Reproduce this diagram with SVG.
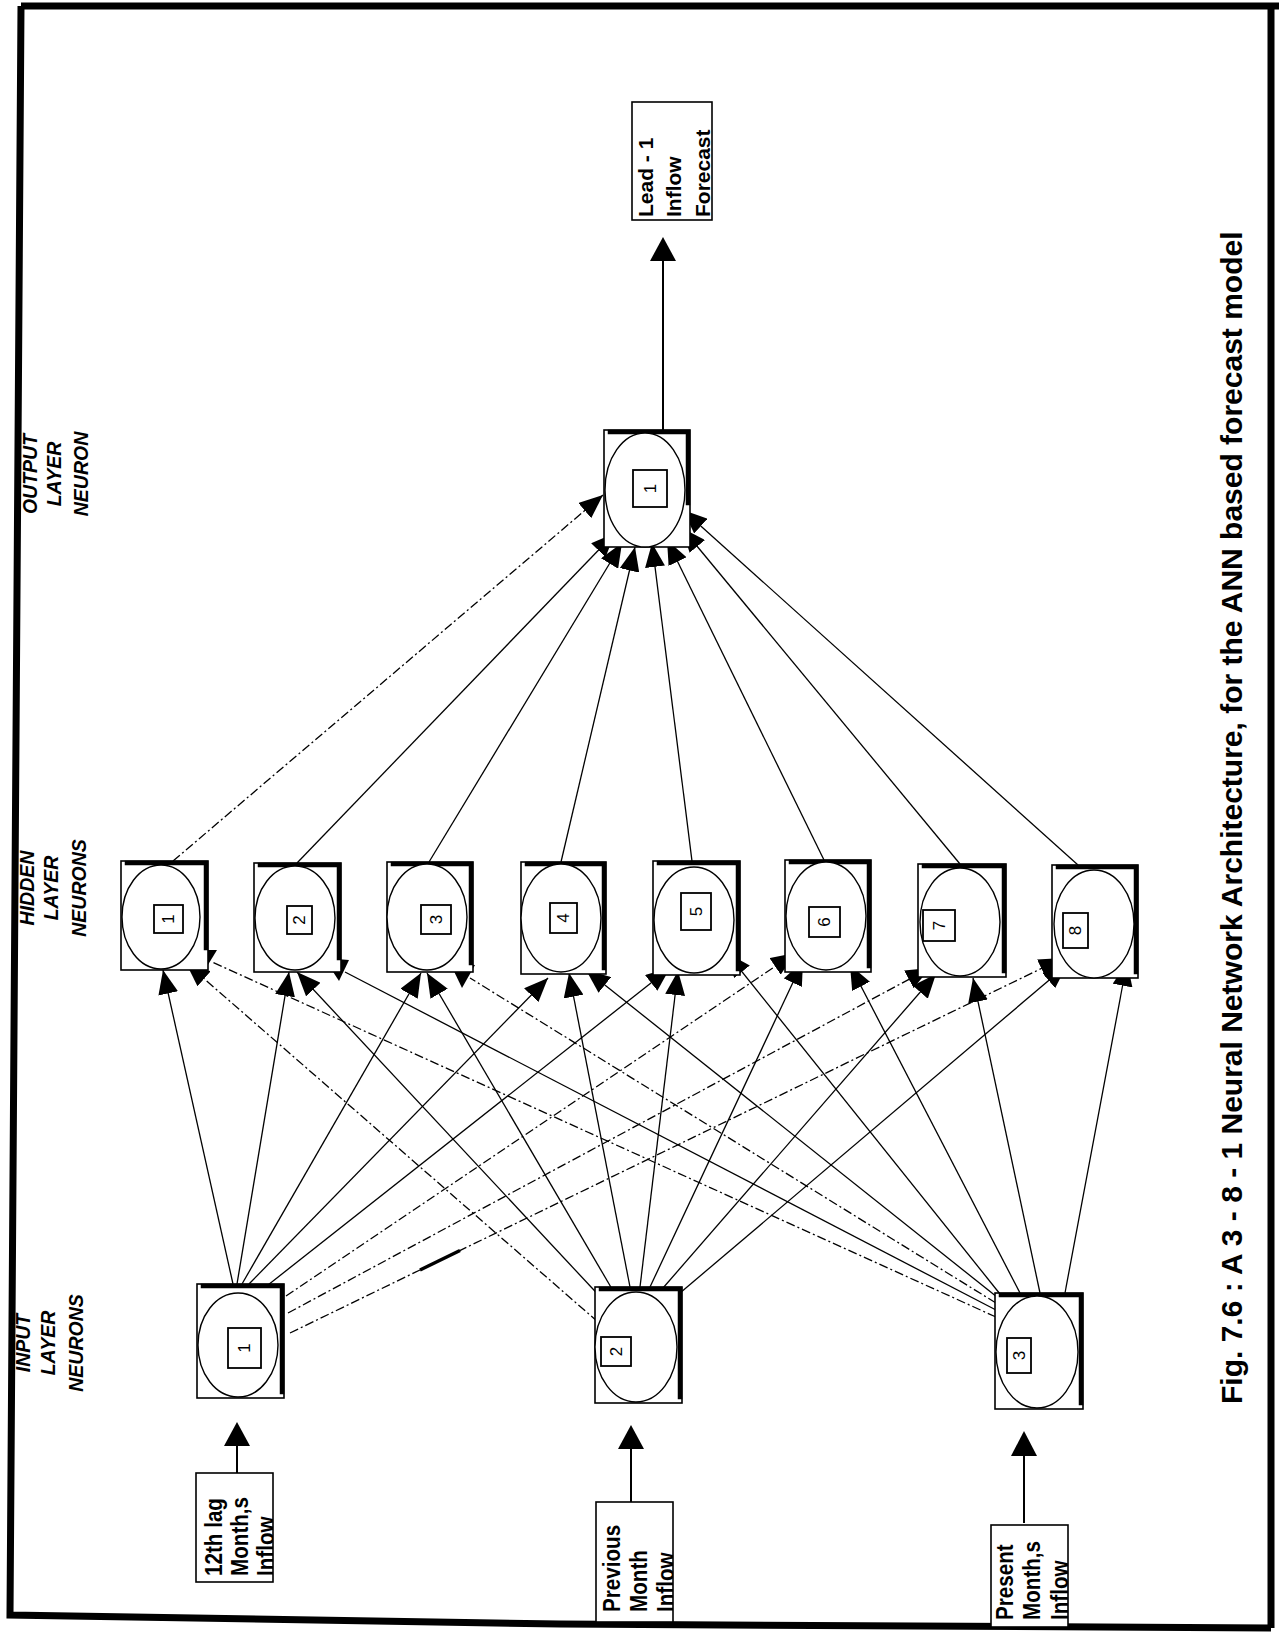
<svg xmlns="http://www.w3.org/2000/svg" width="1279" height="1633" viewBox="0 0 1279 1633">
<defs>
<style>
.box{fill:#fff;stroke:#000;stroke-width:1.6}
.sh{fill:none;stroke:#000;stroke-width:4.5;stroke-linecap:square}
.ell{fill:#fff;stroke:#000;stroke-width:1.4}
.lb{fill:#fff;stroke:#000;stroke-width:1.8}
.dg{font-family:"Liberation Sans",Arial,sans-serif;font-size:17px;fill:#000}
.c{fill:none;stroke:#000;stroke-width:1.3}
.d{stroke-dasharray:9 3 2 3}
.bt{font-family:"Liberation Sans",Arial,sans-serif;font-weight:bold;font-size:24px;fill:#000}
.ot{font-family:"Liberation Sans",Arial,sans-serif;font-weight:bold;font-size:21px;fill:#000}
.ll{font-family:"Liberation Sans",Arial,sans-serif;font-weight:bold;font-style:italic;font-size:19.5px;fill:#000}
.cap{font-family:"Liberation Sans",Arial,sans-serif;font-weight:bold;font-size:30px;fill:#000}
.tb{fill:#fff;stroke:#000;stroke-width:1.6}
</style>
<marker id="ah" markerUnits="userSpaceOnUse" markerWidth="24" markerHeight="20" viewBox="0 0 24 20" refX="24" refY="10" orient="auto"><path d="M0,0 L24,10 L0,20 Z" fill="#000"/></marker>
<clipPath id="cb1"><rect x="196" y="1473" width="77" height="109"/></clipPath>
<clipPath id="cb2"><rect x="596" y="1502" width="77" height="120"/></clipPath>
<clipPath id="cb3"><rect x="991" y="1525" width="77" height="102"/></clipPath>
<clipPath id="cbo"><rect x="632" y="102" width="80" height="118"/></clipPath>
</defs>
<rect width="1279" height="1633" fill="#fff"/>
<g id="frame">
<path d="M21,6 L1279,6 M1271,6 L1271,1628 M21,6 L10,1615 L560,1624 L1271,1628" fill="none" stroke="#000" stroke-width="7"/>
</g>

<g id="connectors">
<!-- input to hidden -->
<line class="c" x1="233" y1="1284" x2="163" y2="970" marker-end="url(#ah)"/>
<line class="c" x1="237" y1="1284" x2="289" y2="972" marker-end="url(#ah)"/>
<line class="c" x1="242" y1="1284" x2="421" y2="973" marker-end="url(#ah)"/>
<line class="c" x1="249" y1="1284" x2="548" y2="978" marker-end="url(#ah)"/>
<line class="c" x1="268" y1="1285" x2="670" y2="968" marker-end="url(#ah)"/>
<line class="c d" x1="286" y1="1296" x2="795" y2="953" marker-end="url(#ah)"/>
<line class="c d" x1="288" y1="1313" x2="930" y2="968" marker-end="url(#ah)"/>
<line class="c d" x1="290" y1="1333" x2="1063" y2="958" marker-end="url(#ah)"/>
<line x1="420" y1="1270" x2="460" y2="1250.5" stroke="#000" stroke-width="3.5"/>

<line class="c d" x1="598" y1="1322" x2="186" y2="963" marker-end="url(#ah)"/>
<line class="c" x1="606" y1="1303" x2="297" y2="972" marker-end="url(#ah)"/>
<line class="c" x1="612" y1="1289" x2="427" y2="973" marker-end="url(#ah)"/>
<line class="c" x1="630" y1="1287" x2="569" y2="973" marker-end="url(#ah)"/>
<line class="c" x1="640" y1="1287" x2="678" y2="971" marker-end="url(#ah)"/>
<line class="c" x1="650" y1="1287" x2="803" y2="961" marker-end="url(#ah)"/>
<line class="c" x1="663" y1="1288" x2="936" y2="974" marker-end="url(#ah)"/>
<line class="c" x1="680" y1="1293" x2="1067" y2="965" marker-end="url(#ah)"/>

<line class="c d" x1="996" y1="1317" x2="212" y2="962"/>
<line class="c" x1="996" y1="1310" x2="345" y2="972"/>
<line class="c d" x1="996" y1="1303" x2="470" y2="978"/>
<line class="c" x1="997" y1="1297" x2="586" y2="970" marker-end="url(#ah)"/>
<line class="c" x1="1000" y1="1294" x2="727" y2="953" marker-end="url(#ah)"/>
<line class="c" x1="1020" y1="1293" x2="850" y2="965" marker-end="url(#ah)"/>
<line class="c" x1="1040" y1="1293" x2="973" y2="978" marker-end="url(#ah)"/>
<line class="c" x1="1065" y1="1293" x2="1127" y2="962" marker-end="url(#ah)"/>
<polygon points="194,950 217,950 203,973" fill="#000"/>
<polygon points="324,958 349,960 339,981" fill="#000"/>
<polygon points="450,963 475,965 462,988" fill="#000"/>

<!-- hidden to output -->
<line class="c d" x1="173" y1="861" x2="603" y2="495" marker-end="url(#ah)"/>
<line class="c" x1="297" y1="863" x2="615" y2="533" marker-end="url(#ah)"/>
<line class="c" x1="429" y1="862" x2="622" y2="543" marker-end="url(#ah)"/>
<line class="c" x1="561" y1="862" x2="635" y2="547" marker-end="url(#ah)"/>
<line class="c" x1="692" y1="861" x2="652" y2="543" marker-end="url(#ah)"/>
<line class="c" x1="824" y1="860" x2="667" y2="540" marker-end="url(#ah)"/>
<line class="c" x1="960" y1="864" x2="682" y2="528" marker-end="url(#ah)"/>
<line class="c" x1="1078" y1="865" x2="683" y2="510" marker-end="url(#ah)"/>

<!-- source boxes to inputs -->
<line x1="237" y1="1497" x2="237" y2="1444" stroke="#000" stroke-width="2"/>
<polygon points="237,1422 224,1446 250,1446" fill="#000"/>
<line x1="631" y1="1513" x2="631" y2="1447" stroke="#000" stroke-width="2"/>
<polygon points="631,1425 618,1449 644,1449" fill="#000"/>
<line x1="1024" y1="1523" x2="1024" y2="1454" stroke="#000" stroke-width="2"/>
<polygon points="1024,1431 1011,1456 1037,1456" fill="#000"/>
<!-- output to forecast -->
<line x1="663" y1="430" x2="663" y2="259" stroke="#000" stroke-width="2"/>
<polygon points="663,237 650,261 676,261" fill="#000"/>
</g>

<g id="layer-labels">
<text class="ll" text-anchor="middle" transform="translate(30,1343) rotate(-90)">INPUT</text>
<text class="ll" text-anchor="middle" transform="translate(55,1343) rotate(-90)">LAYER</text>
<text class="ll" text-anchor="middle" transform="translate(83,1343) rotate(-90)">NEURONS</text>
<text class="ll" text-anchor="middle" transform="translate(34,888) rotate(-90)">HIDDEN</text>
<text class="ll" text-anchor="middle" transform="translate(58,888) rotate(-90)">LAYER</text>
<text class="ll" text-anchor="middle" transform="translate(86,888) rotate(-90)">NEURONS</text>
<text class="ll" text-anchor="middle" transform="translate(37,474) rotate(-90)">OUTPUT</text>
<text class="ll" text-anchor="middle" transform="translate(61,474) rotate(-90)">LAYER</text>
<text class="ll" text-anchor="middle" transform="translate(88,474) rotate(-90)">NEURON</text>
</g>

<g id="input-1">
<rect class="box" x="197" y="1284" width="87" height="114"/>
<path class="sh" d="M203,1286 L282,1286 L282,1392"/>
<ellipse class="ell" cx="238" cy="1345" rx="40" ry="52"/>
<rect class="lb" x="228" y="1328" width="33" height="40"/>
<text class="dg" text-anchor="middle" dominant-baseline="central" transform="translate(244.5,1348) rotate(-90)">1</text>
</g>
<g id="input-2">
<rect class="box" x="595" y="1287" width="87" height="116"/>
<path class="sh" d="M601,1289 L680,1289 L680,1397"/>
<ellipse class="ell" cx="636" cy="1347" rx="41" ry="55"/>
<rect class="lb" x="601" y="1337" width="30" height="29"/>
<text class="dg" text-anchor="middle" dominant-baseline="central" transform="translate(616,1351.5) rotate(-90)">2</text>
</g>
<g id="input-3">
<rect class="box" x="995" y="1293" width="88" height="116"/>
<path class="sh" d="M1001,1295 L1081,1295 L1081,1403"/>
<ellipse class="ell" cx="1037" cy="1352" rx="41" ry="56"/>
<rect class="lb" x="1007" y="1338" width="24" height="35"/>
<text class="dg" text-anchor="middle" dominant-baseline="central" transform="translate(1019,1355.5) rotate(-90)">3</text>
</g>

<g id="hidden-1">
<rect class="box" x="121" y="861" width="87" height="109"/>
<path class="sh" d="M127,863 L206,863 L206,948"/>
<ellipse class="ell" cx="161" cy="917" rx="39" ry="52"/>
<rect class="lb" x="154" y="905" width="29" height="28"/>
<text class="dg" text-anchor="middle" dominant-baseline="central" transform="translate(168.5,919) rotate(-90)">1</text>
</g>
<g id="hidden-2">
<rect class="box" x="254" y="863" width="87" height="109"/>
<path class="sh" d="M260,865 L339,865 L339,958"/>
<ellipse class="ell" cx="295" cy="918" rx="40" ry="52"/>
<rect class="lb" x="287" y="906" width="25" height="28"/>
<text class="dg" text-anchor="middle" dominant-baseline="central" transform="translate(299.5,920) rotate(-90)">2</text>
</g>
<g id="hidden-3">
<rect class="box" x="387" y="862" width="86" height="110"/>
<path class="sh" d="M393,864 L471,864 L471,963"/>
<ellipse class="ell" cx="427" cy="917" rx="40" ry="53"/>
<rect class="lb" x="421" y="905" width="30" height="29"/>
<text class="dg" text-anchor="middle" dominant-baseline="central" transform="translate(436,919.5) rotate(-90)">3</text>
</g>
<g id="hidden-4">
<rect class="box" x="521" y="862" width="85" height="112"/>
<path class="sh" d="M527,864 L604,864 L604,968"/>
<ellipse class="ell" cx="561" cy="918" rx="40" ry="54"/>
<rect class="lb" x="550" y="903" width="27" height="30"/>
<text class="dg" text-anchor="middle" dominant-baseline="central" transform="translate(563.5,918) rotate(-90)">4</text>
</g>
<g id="hidden-5">
<rect class="box" x="653" y="861" width="87" height="114"/>
<path class="sh" d="M659,863 L738,863 L738,969"/>
<ellipse class="ell" cx="694" cy="920" rx="40" ry="53"/>
<rect class="lb" x="681" y="893" width="30" height="37"/>
<text class="dg" text-anchor="middle" dominant-baseline="central" transform="translate(696,911.5) rotate(-90)">5</text>
</g>
<g id="hidden-6">
<rect class="box" x="785" y="860" width="86" height="112"/>
<path class="sh" d="M791,862 L869,862 L869,966"/>
<ellipse class="ell" cx="826" cy="916" rx="40" ry="54"/>
<rect class="lb" x="809" y="907" width="31" height="30"/>
<text class="dg" text-anchor="middle" dominant-baseline="central" transform="translate(824.5,922) rotate(-90)">6</text>
</g>
<g id="hidden-7">
<rect class="box" x="918" y="864" width="88" height="113"/>
<path class="sh" d="M924,866 L1004,866 L1004,971"/>
<ellipse class="ell" cx="960" cy="922" rx="40" ry="54"/>
<rect class="lb" x="923" y="910" width="32" height="31"/>
<text class="dg" text-anchor="middle" dominant-baseline="central" transform="translate(939,925.5) rotate(-90)">7</text>
</g>
<g id="hidden-8">
<rect class="box" x="1052" y="865" width="86" height="113"/>
<path class="sh" d="M1058,867 L1136,867 L1136,972"/>
<ellipse class="ell" cx="1094" cy="924" rx="40" ry="54"/>
<rect class="lb" x="1063" y="913" width="25" height="35"/>
<text class="dg" text-anchor="middle" dominant-baseline="central" transform="translate(1075.5,930.5) rotate(-90)">8</text>
</g>

<g id="output-1">
<rect class="box" x="604" y="430" width="86" height="117"/>
<path class="sh" d="M610,432 L688,432 L688,503"/>
<ellipse class="ell" cx="645" cy="490" rx="40" ry="57"/>
<rect class="lb" x="633" y="470" width="34" height="37"/>
<text class="dg" text-anchor="middle" dominant-baseline="central" transform="translate(650,488.5) rotate(-90)">1</text>
</g>

<g id="source-1">
<rect class="tb" x="196" y="1473" width="77" height="109"/>
<g clip-path="url(#cb1)">
<text class="bt" transform="translate(222,1576) rotate(-90) scale(0.86,1)">12th lag</text>
<text class="bt" transform="translate(248,1576) rotate(-90) scale(0.86,1)">Month,s</text>
<text class="bt" transform="translate(274,1576) rotate(-90) scale(0.86,1)">Inflow</text>
</g>
</g>
<g id="source-2">
<rect class="tb" x="596" y="1502" width="77" height="120"/>
<g clip-path="url(#cb2)">
<text class="bt" transform="translate(620,1612) rotate(-90) scale(0.86,1)">Previous</text>
<text class="bt" transform="translate(647,1612) rotate(-90) scale(0.86,1)">Month</text>
<text class="bt" transform="translate(674,1612) rotate(-90) scale(0.86,1)">Inflow</text>
</g>
</g>
<g id="source-3">
<rect class="tb" x="991" y="1525" width="77" height="102"/>
<g clip-path="url(#cb3)">
<text class="bt" transform="translate(1013,1620) rotate(-90) scale(0.86,1)">Present</text>
<text class="bt" transform="translate(1040,1620) rotate(-90) scale(0.86,1)">Month,s</text>
<text class="bt" transform="translate(1068,1620) rotate(-90) scale(0.86,1)">Inflow</text>
</g>
</g>
<g id="forecast">
<rect class="tb" x="632" y="102" width="80" height="118"/>
<g clip-path="url(#cbo)">
<text class="ot" transform="translate(653,217) rotate(-90)">Lead - 1</text>
<text class="ot" transform="translate(681,217) rotate(-90)">Inflow</text>
<text class="ot" transform="translate(710,217) rotate(-90)">Forecast</text>
</g>
</g>

<g id="caption">
<text class="cap" transform="translate(1242,1404) rotate(-90)">Fig. 7.6 : A 3 - 8 - 1 Neural Network Architecture, for the ANN based forecast model</text>
</g>
</svg>
